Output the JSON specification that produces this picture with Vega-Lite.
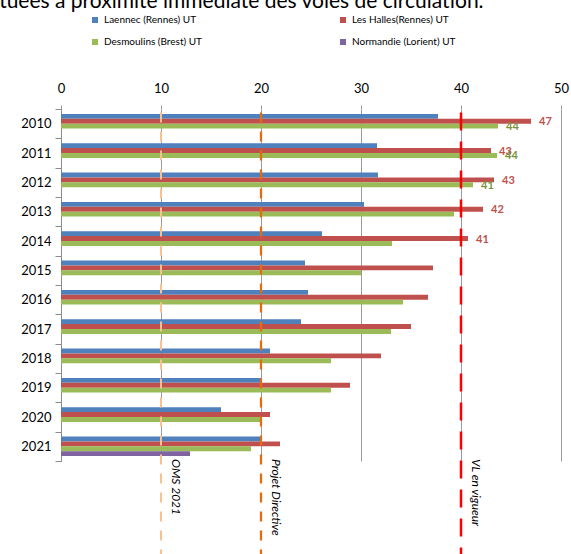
{
  "$schema": "https://vega.github.io/schema/vega-lite/v6.json",
  "autosize": {"type": "none"},
  "width": 500,
  "height": 352,
  "padding": {"left": 61, "top": 109, "right": 10, "bottom": 93},
  "background": "white",
  "config": {"view": {"stroke": null}, "font": "Lato"},
  "title": {
    "text": "situées à proximité immédiate des voies de circulation.",
    "anchor": "start",
    "frame": "group",
    "font": "Lato",
    "fontSize": 21,
    "fontWeight": "normal",
    "color": "#000000",
    "offset": 3,
    "dx": -76
  },
  "datasets": {
    "measures": [
      {"year": "2010", "series": "Laennec (Rennes) UT", "value": 37.7},
      {"year": "2010", "series": "Les Halles(Rennes) UT", "value": 47},
      {"year": "2010", "series": "Desmoulins (Brest) UT", "value": 43.7},
      {"year": "2011", "series": "Laennec (Rennes) UT", "value": 31.6},
      {"year": "2011", "series": "Les Halles(Rennes) UT", "value": 43},
      {"year": "2011", "series": "Desmoulins (Brest) UT", "value": 43.6},
      {"year": "2012", "series": "Laennec (Rennes) UT", "value": 31.7},
      {"year": "2012", "series": "Les Halles(Rennes) UT", "value": 43.3},
      {"year": "2012", "series": "Desmoulins (Brest) UT", "value": 41.2},
      {"year": "2013", "series": "Laennec (Rennes) UT", "value": 30.3},
      {"year": "2013", "series": "Les Halles(Rennes) UT", "value": 42.2},
      {"year": "2013", "series": "Desmoulins (Brest) UT", "value": 39.3},
      {"year": "2014", "series": "Laennec (Rennes) UT", "value": 26.1},
      {"year": "2014", "series": "Les Halles(Rennes) UT", "value": 40.7},
      {"year": "2014", "series": "Desmoulins (Brest) UT", "value": 33.1},
      {"year": "2015", "series": "Laennec (Rennes) UT", "value": 24.4},
      {"year": "2015", "series": "Les Halles(Rennes) UT", "value": 37.2},
      {"year": "2015", "series": "Desmoulins (Brest) UT", "value": 30.0},
      {"year": "2016", "series": "Laennec (Rennes) UT", "value": 24.7},
      {"year": "2016", "series": "Les Halles(Rennes) UT", "value": 36.7},
      {"year": "2016", "series": "Desmoulins (Brest) UT", "value": 34.2},
      {"year": "2017", "series": "Laennec (Rennes) UT", "value": 24.0},
      {"year": "2017", "series": "Les Halles(Rennes) UT", "value": 35.0},
      {"year": "2017", "series": "Desmoulins (Brest) UT", "value": 33.0},
      {"year": "2018", "series": "Laennec (Rennes) UT", "value": 20.9},
      {"year": "2018", "series": "Les Halles(Rennes) UT", "value": 32.0},
      {"year": "2018", "series": "Desmoulins (Brest) UT", "value": 27.0},
      {"year": "2019", "series": "Laennec (Rennes) UT", "value": 20.0},
      {"year": "2019", "series": "Les Halles(Rennes) UT", "value": 28.9},
      {"year": "2019", "series": "Desmoulins (Brest) UT", "value": 27.0},
      {"year": "2020", "series": "Laennec (Rennes) UT", "value": 16.0},
      {"year": "2020", "series": "Les Halles(Rennes) UT", "value": 20.9},
      {"year": "2020", "series": "Desmoulins (Brest) UT", "value": 20.0},
      {"year": "2021", "series": "Laennec (Rennes) UT", "value": 20.0},
      {"year": "2021", "series": "Les Halles(Rennes) UT", "value": 21.9},
      {"year": "2021", "series": "Desmoulins (Brest) UT", "value": 19.0},
      {"year": "2021", "series": "Normandie (Lorient) UT", "value": 12.9}
    ],
    "limits": [
      {"name": "OMS 2021", "value": 10},
      {"name": "Projet Directive", "value": 20},
      {"name": "VL en vigueur", "value": 40}
    ]
  },
  "encoding": {
    "x": {
      "field": "value",
      "type": "quantitative",
      "scale": {"domain": [0, 50], "nice": false, "zero": true},
      "axis": {
        "orient": "top",
        "title": null,
        "values": [0, 10, 20, 30, 40, 50],
        "grid": true,
        "gridColor": "#9a9a9a",
        "gridWidth": 1,
        "domain": false,
        "tickColor": "#9a9a9a",
        "tickSize": 4,
        "labelFont": "Lato",
        "labelFontSize": 13,
        "labelColor": "#000000",
        "labelPadding": 10,
        "labelFlush": false
      }
    }
  },
  "layer": [
    {
      "data": {"name": "measures"},
      "layer": [
        {
          "mark": {"type": "bar"},
          "encoding": {
            "y": {
              "field": "year",
              "type": "ordinal",
              "scale": {"paddingInner": 0, "paddingOuter": 0},
              "axis": {
                "title": null,
                "grid": false,
                "domainColor": "#8c8c8c",
                "tickColor": "#8c8c8c",
                "tickSize": 6,
                "tickBand": "extent",
                "labelFont": "Lato",
                "labelFontSize": 13,
                "labelColor": "#000000",
                "labelPadding": 4
              }
            },
            "yOffset": {
              "field": "series",
              "type": "nominal",
              "scale": {
                "domain": ["Laennec (Rennes) UT", "Les Halles(Rennes) UT", "Desmoulins (Brest) UT", "Normandie (Lorient) UT"],
                "paddingInner": 0,
                "paddingOuter": 1.03
              }
            },
            "color": {
              "field": "series",
              "type": "nominal",
              "scale": {
                "domain": ["Laennec (Rennes) UT", "Les Halles(Rennes) UT", "Desmoulins (Brest) UT", "Normandie (Lorient) UT"],
                "range": ["#4f81bd", "#c0504d", "#9bbb59", "#8064a2"]
              },
              "legend": {
                "orient": "none",
                "direction": "horizontal",
                "legendX": 29,
                "legendY": -94,
                "columns": 2,
                "columnPadding": 136,
                "rowPadding": 12,
                "title": null,
                "symbolType": "square",
                "symbolSize": 36,
                "symbolStrokeWidth": 0,
                "labelFont": "Lato",
                "labelFontSize": 10,
                "labelColor": "#000000",
                "labelLimit": 250
              }
            }
          }
        },
        {
          "transform": [{"filter": "datum.value > 40"}],
          "mark": {"type": "text", "align": "left", "baseline": "middle", "dx": 8, "dy": 1, "font": "Lato", "fontSize": 11, "fontWeight": "bold"},
          "encoding": {
            "y": {"field": "year", "type": "ordinal"},
            "yOffset": {"field": "series", "type": "nominal"},
            "text": {"field": "value", "type": "quantitative", "format": ".0f"},
            "fill": {
              "field": "series",
              "type": "nominal",
              "scale": {
                "domain": ["Les Halles(Rennes) UT", "Desmoulins (Brest) UT"],
                "range": ["#c0504d", "#77933c"]
              },
              "legend": null
            }
          }
        }
      ]
    },
    {
      "data": {"name": "limits"},
      "layer": [
        {
          "mark": {"type": "rule"},
          "encoding": {
            "y": {
              "datum": 0.01,
              "type": "quantitative",
              "scale": {"domain": [0, 1], "reverse": true, "nice": false, "zero": false},
              "axis": null
            },
            "y2": {"datum": 1.3},
            "stroke": {
              "field": "name",
              "type": "nominal",
              "scale": {
                "domain": ["OMS 2021", "Projet Directive", "VL en vigueur"],
                "range": ["#fac090", "#e46c0a", "#ff0000"]
              },
              "legend": null
            },
            "strokeWidth": {
              "field": "name",
              "type": "ordinal",
              "scale": {
                "domain": ["OMS 2021", "Projet Directive", "VL en vigueur"],
                "range": [2, 2.5, 4]
              },
              "legend": null
            },
            "strokeDash": {
              "field": "name",
              "type": "nominal",
              "scale": {
                "domain": ["OMS 2021", "Projet Directive", "VL en vigueur"],
                "range": [[10, 9], [10, 9], [18, 11]]
              },
              "legend": null
            }
          }
        },
        {
          "mark": {"type": "text", "angle": 90, "align": "left", "baseline": "middle", "dx": -2, "dy": -15, "font": "Lato", "fontSize": 12, "fontStyle": "italic", "color": "#000000"},
          "encoding": {
            "y": {"datum": 1.0, "type": "quantitative"},
            "text": {"field": "name", "type": "nominal"}
          }
        }
      ]
    }
  ],
  "resolve": {"scale": {"y": "independent"}}
}
